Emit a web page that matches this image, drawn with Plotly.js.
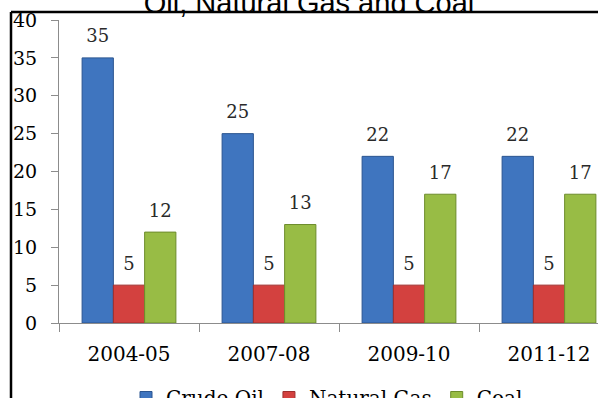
<!DOCTYPE html>
<html>
<head>
<meta charset="utf-8">
<script src="https://cdn.plot.ly/plotly-3.0.1.min.js"></script>
<style>
  html, body { margin: 0; padding: 0; background: #fff; }
  #chart { width: 598px; height: 398px; }
</style>
</head>
<body>
<div id="chart"></div>
<script>
// Production shares by year
const years = ['2004-05', '2007-08', '2009-10', '2011-12'];
const crudeOil = [35, 25, 22, 22];
const naturalGas = [5, 5, 5, 5];
const coal = [12, 13, 17, 17];
const seriesNames = ['Crude Oil', 'Natural Gas', 'Coal'];
const yTicks = [0, 5, 10, 15, 20, 25, 30, 35, 40];

const serif = 'DejaVu Serif';
const fills = ['#3f75bf', '#d3413f', '#98bc45'];
const edges = ['#2b5590', '#9e2f2e', '#6d8c2c'];
const seriesValues = [crudeOil, naturalGas, coal];

const traces = [];
seriesValues.forEach((vals, i) => {
  traces.push({
    type: 'bar',
    name: seriesNames[i],
    x: years,
    y: vals,
    marker: { color: fills[i], line: { color: edges[i], width: 1 } },
    hoverinfo: 'x+y+name'
  });
});
// value labels, grouped the same way as the bars
seriesValues.forEach((vals, i) => {
  traces.push({
    type: 'scatter',
    mode: 'markers+text',
    x: years,
    y: vals,
    text: vals.map(String),
    textposition: 'top center',
    textfont: { family: serif, size: 18, color: '#2a2a2a' },
    marker: { size: 16, opacity: 0, color: fills[i] },
    cliponaxis: false,
    showlegend: false,
    hoverinfo: 'skip'
  });
});

// plot area spans x 59..598 px, y 20..323 px
const L = 59, R = 598, T = 20, B = 323;
const px = v => (v - L) / (R - L);
const py = v => (B - v) / (B - T);

const layout = {
  width: 598,
  height: 398,
  margin: { l: L, r: 598 - R, t: T, b: 398 - B, pad: 0, autoexpand: false },
  font: { family: serif, color: '#000' },
  paper_bgcolor: '#fff',
  plot_bgcolor: '#fff',
  barmode: 'group',
  bargap: 0.33,
  bargroupgap: 0,
  scattermode: 'group',
  scattergap: 0.33,
  title: {
    text: 'Oil, Natural Gas and Coal',
    font: { family: 'Liberation Sans', size: 29, color: '#000' },
    x: 309 / 598,
    xanchor: 'center',
    xref: 'container',
    yref: 'container',
    y: 1 - 13 / 398,
    yanchor: 'bottom'
  },
  xaxis: {
    type: 'category',
    range: [-0.5, 3.35],
    showline: true,
    linecolor: '#8c8c8c',
    linewidth: 1,
    ticks: 'outside',
    tickson: 'boundaries',
    ticklen: 8,
    tickcolor: '#8c8c8c',
    tickfont: { family: serif, size: 20, color: '#000' },
    ticklabelstandoff: 13,
    showgrid: false,
    zeroline: false,
    automargin: false,
    fixedrange: true
  },
  yaxis: {
    range: [0, 40],
    tickvals: yTicks,
    ticktext: yTicks.map(String),
    showline: true,
    linecolor: '#8c8c8c',
    linewidth: 1,
    ticks: 'outside',
    ticklen: 7,
    tickcolor: '#8c8c8c',
    tickfont: { family: serif, size: 19, color: '#000' },
    ticklabelstandoff: 10,
    showgrid: false,
    zeroline: false,
    automargin: false,
    fixedrange: true
  },
  legend: {
    orientation: 'h',
    xref: 'container',
    yref: 'container',
    x: 126 / 598,
    xanchor: 'left',
    y: 1 - 378 / 398,
    yanchor: 'top',
    font: { family: serif, size: 20, color: '#000' },
    bgcolor: 'rgba(0,0,0,0)',
    traceorder: 'normal'
  },
  shapes: [
    { type: 'line', xref: 'paper', yref: 'paper', x0: px(11), x1: px(600), y0: py(12), y1: py(12),
      line: { color: '#000', width: 2.5 } },
    { type: 'line', xref: 'paper', yref: 'paper', x0: px(11), x1: px(11), y0: py(12), y1: py(400),
      line: { color: '#000', width: 2.5 } }
  ],
  showlegend: true
};

Plotly.newPlot('chart', traces, layout, { displayModeBar: false, staticPlot: true });
</script>
</body>
</html>
